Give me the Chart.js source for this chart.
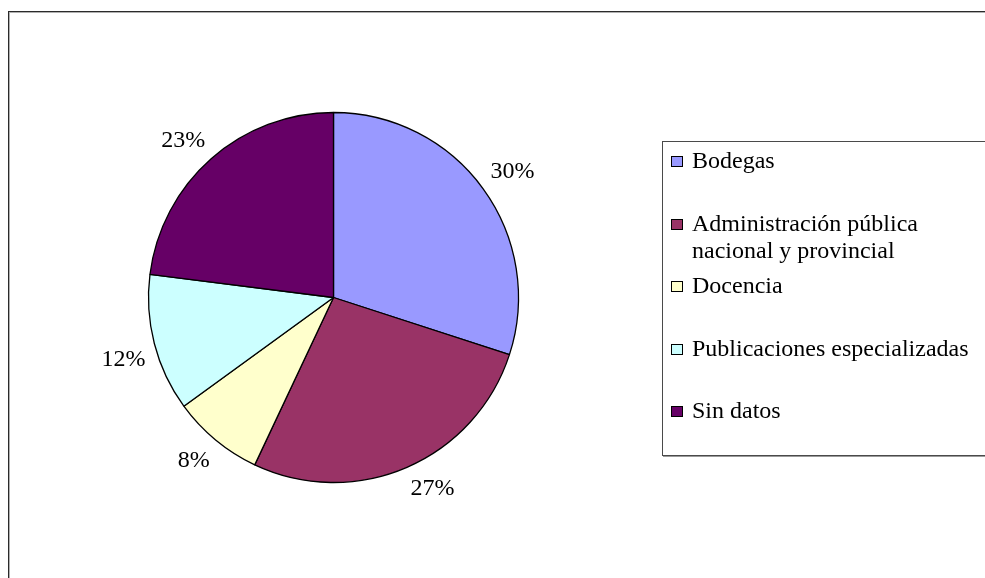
<!DOCTYPE html>
<html>
<head>
<meta charset="utf-8">
<script src="https://cdn.jsdelivr.net/npm/chart.js@4.4.1/dist/chart.umd.min.js"></script>
<style>
  html, body { margin: 0; padding: 0; background: #fff; }
  #wrap { width: 985px; height: 578px; position: relative; }
</style>
</head>
<body>
<div id="wrap"><canvas id="c" width="985" height="578"></canvas></div>
<script>
const categories = ["Bodegas", "Administración pública nacional y provincial", "Docencia", "Publicaciones especializadas", "Sin datos"];
const shares = [30, 27, 8, 12, 23];
const sliceColors = ["#9999FF", "#993366", "#FFFFCC", "#CCFFFF", "#660066"];

const FONT = "24px 'Liberation Serif', 'Times New Roman', serif";

function wrapText(ctx, text, maxW) {
  const words = text.split(" ");
  const lines = [];
  let cur = "";
  for (const w of words) {
    const t = cur ? cur + " " + w : w;
    if (ctx.measureText(t).width > maxW && cur) { lines.push(cur); cur = w; }
    else cur = t;
  }
  if (cur) lines.push(cur);
  return lines;
}

const framePlugin = {
  id: "frame",
  beforeDraw(chart) {
    const ctx = chart.ctx;
    ctx.save();
    ctx.fillStyle = "#fff";
    ctx.fillRect(0, 0, chart.width, chart.height);
    ctx.fillStyle = "#2a2a2a";
    ctx.fillRect(8, 11, 1, chart.height);
    ctx.fillRect(8, 11, chart.width, 1);
    ctx.fillStyle = "#b0b0b0";
    ctx.fillRect(9, 12, 1, chart.height);
    ctx.fillRect(9, 12, chart.width, 1);
    ctx.restore();
  }
};

const labelPlugin = {
  id: "pctLabels",
  afterDatasetsDraw(chart) {
    const ctx = chart.ctx;
    const meta = chart.getDatasetMeta(0);
    const total = chart.data.datasets[0].data.reduce((a, b) => a + b, 0);
    ctx.save();
    ctx.font = FONT;
    ctx.fillStyle = "#000";
    ctx.textAlign = "center";
    ctx.textBaseline = "middle";
    meta.data.forEach((arc, i) => {
      const v = chart.data.datasets[0].data[i];
      const mid = (arc.startAngle + arc.endAngle) / 2;
      const r = arc.outerRadius + 9;
      const ax = arc.x + Math.cos(mid) * r;
      const ay = arc.y + Math.sin(mid) * r;
      const txt = Math.round(v / total * 100) + "%";
      const w = ctx.measureText(txt).width;
      const h = 25;
      // nearest corner of the label box touches the anchor point
      const cx = ax + Math.sign(Math.cos(mid)) * w / 2;
      const cy = ay + Math.sign(Math.sin(mid)) * h / 2;
      ctx.fillText(txt, cx, cy + 1);
    });
    ctx.restore();
  }
};

const legendPlugin = {
  id: "boxLegend",
  afterDraw(chart) {
    const ctx = chart.ctx;
    const items = chart.options.plugins.legend.labels.generateLabels(chart);
    ctx.save();
    ctx.fillStyle = "#4a4a4a";
    ctx.fillRect(662, 141, chart.width, 1);
    ctx.fillRect(662, 141, 1, 315);
    ctx.fillRect(662, 455, chart.width, 1);
    ctx.fillStyle = "#9a9a9a";
    ctx.fillRect(663, 456, chart.width, 1);
    ctx.font = FONT;
    ctx.textAlign = "left";
    ctx.textBaseline = "alphabetic";
    const firstBase = 168, step = 62.6, lineH = 26.5;
    items.forEach((it, i) => {
      const base = Math.round(firstBase + i * step);
      ctx.fillStyle = it.fillStyle;
      ctx.fillRect(671, base - 12, 12, 11);
      ctx.strokeStyle = "#000";
      ctx.lineWidth = 1;
      ctx.strokeRect(671.5, base - 11.5, 11, 10);
      ctx.fillStyle = "#000";
      const lines = wrapText(ctx, it.text, 285);
      lines.forEach((ln, k) => ctx.fillText(ln, 692, base + k * lineH));
    });
    ctx.restore();
  }
};

new Chart(document.getElementById("c"), {
  type: "pie",
  data: {
    labels: categories,
    datasets: [{
      data: shares,
      backgroundColor: sliceColors,
      borderColor: "#000",
      borderWidth: 1.3,
      radius: 185
    }]
  },
  options: {
    responsive: false,
    animation: false,
    devicePixelRatio: 1,
    layout: { padding: { left: 148, right: 466, top: 112, bottom: 95 } },
    plugins: {
      legend: { display: false },
      tooltip: { enabled: false }
    }
  },
  plugins: [framePlugin, labelPlugin, legendPlugin]
});
</script>
</body>
</html>
